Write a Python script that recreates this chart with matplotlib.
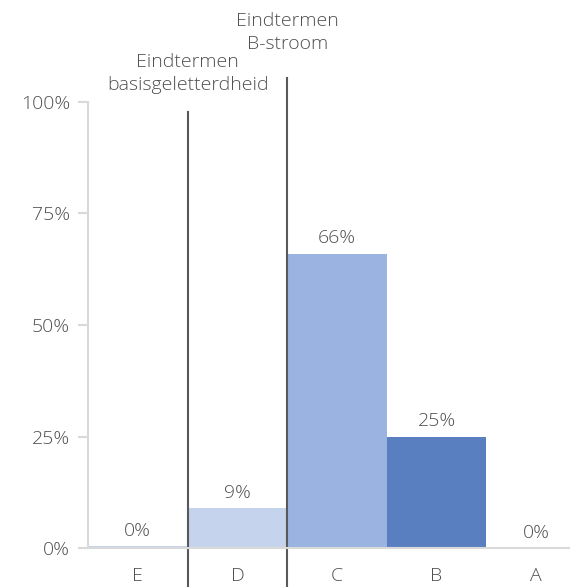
import matplotlib.pyplot as plt

plt.rcParams['font.family'] = ['Open Sans', 'DejaVu Sans']
plt.rcParams['font.weight'] = 'light'

categories = ['E', 'D', 'C', 'B', 'A']
values = [0.4, 9, 66, 25, 0]
value_labels = ['0%', '9%', '66%', '25%', '0%']
colors = ['#c5d3ec', '#c5d3ec', '#9ab3e0', '#5a7fc0', '#5a7fc0']
yticks = [0, 25, 50, 75, 100]
boundaries = [0.5, 1.5]
boundary_tops = [97.8, 105.4]
boundary_texts = ['Eindtermen\nbasisgeletterdheid', 'Eindtermen\nB-stroom']
text_y = [106.3, 115.6]

txt = '#505050'
fs = 14

fig = plt.figure(figsize=(5.7, 5.87), dpi=100)
ax = fig.add_axes([88 / 570, 39 / 587, 498 / 570, 446 / 587])

x = list(range(len(categories)))
ax.bar(x, values, width=1.0, color=colors)
for xi, v, lab in zip(x, values, value_labels):
    ax.text(xi, max(v, 0) + 3.4, lab, ha='center', va='center', fontsize=fs, color=txt)

for b, top, t, ty in zip(boundaries, boundary_tops, boundary_texts, text_y):
    ax.plot([b, b], [-9, top], color='#595959', lw=1.5, clip_on=False)
    ax.text(b, ty, t, ha='center', va='center', fontsize=fs, color=txt,
            linespacing=1.35)

ax.set_xlim(-0.5, 4.5)
ax.set_ylim(0, 100)
ax.set_yticks(yticks)
ax.set_yticklabels([f'{t}%' for t in yticks])
ax.set_xticks(x)
ax.set_xticklabels(categories)
ax.tick_params(axis='y', colors='#d9d9d9', length=7, width=1.5, pad=6,
               labelcolor=txt, labelsize=fs)
ax.tick_params(axis='x', length=0, pad=14, labelcolor=txt, labelsize=fs)
for s in ['top', 'right']:
    ax.spines[s].set_visible(False)
for s in ['left', 'bottom']:
    ax.spines[s].set_color('#d9d9d9')
    ax.spines[s].set_linewidth(1.5)

fig.savefig('out.png', dpi=100)
